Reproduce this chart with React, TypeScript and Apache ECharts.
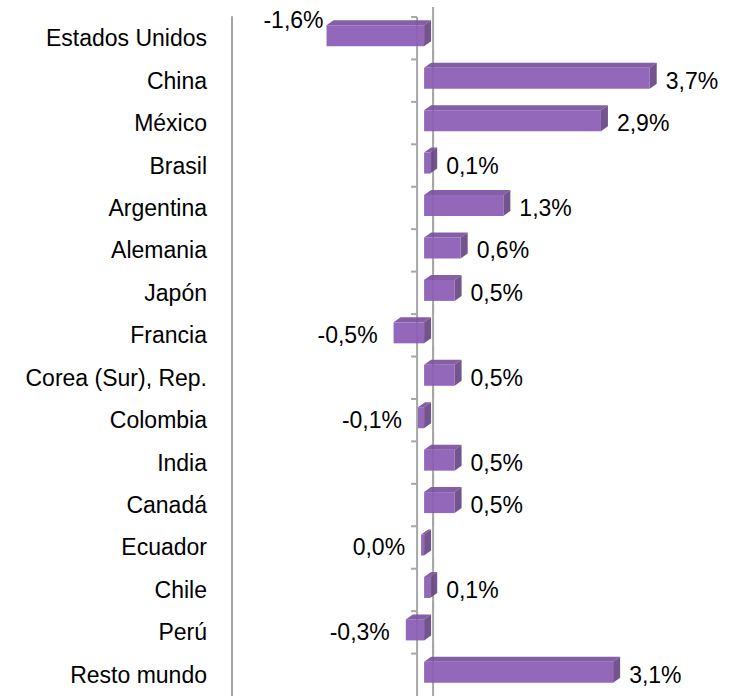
import React, { useEffect, useRef } from "react";
import * as echarts from "echarts";

const CATEGORIES = [
  "Estados Unidos",
  "China",
  "México",
  "Brasil",
  "Argentina",
  "Alemania",
  "Japón",
  "Francia",
  "Corea (Sur), Rep.",
  "Colombia",
  "India",
  "Canadá",
  "Ecuador",
  "Chile",
  "Perú",
  "Resto mundo",
];

const VALUES = [-1.6, 3.7, 2.9, 0.1, 1.3, 0.6, 0.5, -0.5, 0.5, -0.1, 0.5, 0.5, 0.0, 0.1, -0.3, 3.1];

const LABEL_ABOVE = ["Estados Unidos"];

const FONT = "'Liberation Sans', Arial, sans-serif";
const FRONT = "#8a5ab3";
const TOP = "#7a509f";
const SIDE = "#684583";
const LINE = "#a6a6a6";

const fmt = (v: number) => v.toFixed(1).replace(".", ",") + "%";

export default function App() {
  const ref = useRef<HTMLDivElement>(null);

  useEffect(() => {
    if (!ref.current) return;
    const chart = echarts.init(ref.current, undefined, { renderer: "svg" });
    const data = VALUES.map((v, i) => [v, i]);
    const DX = 7;
    const DY = 5;

    chart.setOption({
      animation: false,
      grid: { left: 232, top: 17, width: 497, height: 680 },
      xAxis: { type: "value", min: -3.15, max: 5, show: false },
      yAxis: {
        type: "category",
        data: CATEGORIES,
        inverse: true,
        axisLine: { show: true, onZero: false, lineStyle: { color: LINE, width: 2 } },
        axisTick: { show: false },
        splitLine: { show: false },
        axisLabel: { margin: 25, fontSize: 23, color: "#000", fontFamily: FONT },
      },
      series: [
        {
          type: "custom",
          z: 1,
          data,
          encode: { x: 0, y: 1 },
          renderItem: (params: any, api: any) => {
            const idx = api.value(1);
            const [x0, cy] = api.coord([0, idx]);
            const bw = api.size([0, 1])[1];
            const top = cy - bw / 2;
            const bottom = cy + bw / 2;
            const style = { stroke: LINE, lineWidth: 2 };
            return {
              type: "group",
              children: [
                { type: "line", shape: { x1: x0 - 7, y1: top, x2: x0 - 7, y2: bottom }, style },
                { type: "line", shape: { x1: x0 - 13, y1: top, x2: x0 - 7, y2: top }, style },
                { type: "line", shape: { x1: x0 + 9, y1: top - 10, x2: x0 + 9, y2: bottom }, style },
              ],
            };
          },
        },
        {
          type: "custom",
          z: 2,
          data,
          encode: { x: 0, y: 1 },
          renderItem: (params: any, api: any) => {
            const v = api.value(0);
            const idx = api.value(1);
            const [xv, cy] = api.coord([v, idx]);
            const [x0] = api.coord([0, idx]);
            const bw = api.size([0, 1])[1];
            const fTop = cy - bw * 0.305;
            const fBot = cy + bw * 0.19;
            const left = Math.min(x0, xv) - (v === 0 ? 3 : 0);
            const right = Math.max(x0, xv);
            const children: any[] = [
              {
                type: "polygon",
                shape: {
                  points: [
                    [left, fTop],
                    [right, fTop],
                    [right + DX, fTop - DY],
                    [left + DX, fTop - DY],
                  ],
                },
                style: { fill: TOP, opacity: 0.92 },
              },
              {
                type: "polygon",
                shape: {
                  points: [
                    [right, fTop],
                    [right + DX, fTop - DY],
                    [right + DX, fBot - DY],
                    [right, fBot],
                  ],
                },
                style: { fill: SIDE, opacity: 0.92 },
              },
              {
                type: "rect",
                shape: { x: left, y: fTop, width: right - left, height: fBot - fTop },
                style: { fill: FRONT, opacity: 0.92 },
              },
            ];
            const name = CATEGORIES[idx];
            let label: any;
            if (LABEL_ABOVE.includes(name)) {
              label = { x: left - 3, y: fTop - DY, align: "right", vAlign: "middle" };
            } else if (v <= 0) {
              label = { x: left - 16, y: cy, align: "right", vAlign: "middle" };
            } else {
              label = { x: right + DX + 9, y: cy, align: "left", vAlign: "middle" };
            }
            children.push({
              type: "text",
              x: label.x,
              y: label.y,
              style: {
                text: fmt(v),
                fill: "#000",
                fontSize: 23,
                fontFamily: FONT,
                align: label.align,
                verticalAlign: label.vAlign,
              },
            });
            return { type: "group", children };
          },
        },
      ],
    });

    return () => chart.dispose();
  }, []);

  return (
    <div
      ref={ref}
      style={{ position: "absolute", left: 0, top: 0, width: 738, height: 696 }}
    />
  );
}
